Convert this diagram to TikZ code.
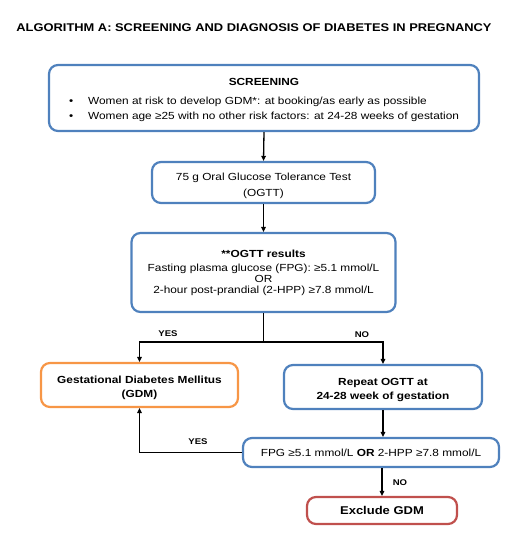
\documentclass[tikz,border=0pt]{standalone}
\usepackage{fontspec}
\setmainfont{Liberation Sans}[FakeStretch=1.15]
\usetikzlibrary{arrows.meta}
\definecolor{boxblue}{RGB}{79,129,189}
\definecolor{boxorange}{RGB}{247,150,70}
\definecolor{boxred}{RGB}{192,80,77}
\newcommand{\topstrut}{\rule{0pt}{13.5pt}}
\tikzset{
  flowbox/.style={draw, rectangle, rounded corners=9pt, line width=2.2pt,
    fill=white, align=center, inner sep=2pt,
    font=\fontsize{10.3}{11}\selectfont},
  bluebox/.style={flowbox, draw=boxblue},
  orangebox/.style={flowbox, draw=boxorange},
  redbox/.style={flowbox, draw=boxred},
  flowarrow/.style={-{Triangle[length=5pt,width=4.5pt]}, line width=1.3pt},
  flowlabel/.style={font=\fontsize{8.3}{10}\selectfont\bfseries}
}
\begin{document}
\begin{tikzpicture}[x=1pt,y=-1pt]
      \useasboundingbox (0,0) rectangle (517,539);
      \node[font=\fontsize{11.2}{13}\selectfont\bfseries] (title) at (254,27.5)
        {ALGORITHM A: SCREENING AND DIAGNOSIS OF DIABETES IN PREGNANCY};
      \node[bluebox, minimum width=430pt, minimum height=66pt,
        font=\fontsize{10.3}{15}\selectfont] (screen) at (264,98)
        {\topstrut\textbf{SCREENING}\\[7pt]
         \begin{tabular}{@{}l@{\hspace{15pt}}l@{}}
           \textbullet & Women at risk to develop GDM*: at booking/as early as possible\\
           \textbullet & Women age ≥25 with no other risk factors: at 24-28 weeks of gestation
         \end{tabular}};
      \node[bluebox, minimum width=223pt, minimum height=41pt,
        font=\fontsize{10.3}{16}\selectfont] (ogtt) at (263.5,182.5)
        {\topstrut 75 g Oral Glucose Tolerance Test\\(OGTT)};
      \node[bluebox, minimum width=264pt, minimum height=79pt] (results) at (263.5,272.5)
        {\textbf{**OGTT results}\\[3pt]
         Fasting plasma glucose (FPG): ≥5.1 mmol/L\\
         OR\\
         2-hour post-prandial (2-HPP) ≥7.8 mmol/L};
      \node[orangebox, minimum width=197pt, minimum height=44pt,
        font=\fontsize{10.3}{14}\selectfont\bfseries] (gdm) at (139.5,385)
        {\topstrut Gestational Diabetes Mellitus\\(GDM)};
      \node[bluebox, minimum width=198pt, minimum height=44pt,
        font=\fontsize{10.3}{14}\selectfont\bfseries] (repeat) at (383,387)
        {\topstrut Repeat OGTT at\\24-28 week of gestation};
      \node[bluebox, minimum width=256pt, minimum height=29pt] (fpg) at (371,452.5)
        {FPG ≥5.1 mmol/L \textbf{OR} 2-HPP ≥7.8 mmol/L};
      \node[redbox, minimum width=150pt, minimum height=27pt,
        font=\fontsize{11.3}{14}\selectfont\bfseries] (exclude) at (382,510.5)
        {Exclude GDM};
      \coordinate (split) at (263.5,342);
      \begin{scope}[flowarrow]
        \draw (screen.south) to (ogtt.north);
        \draw (ogtt.south) to (results.north);
        \draw[-] (results.south) to (split);
        \draw (split) -| (gdm.north);
        \draw (split) -| (repeat.north);
        \draw (repeat.south) to (fpg.north -| repeat.south);
        \draw (fpg.west) -| (gdm.south);
        \draw (fpg.south -| exclude.north) to (exclude.north);
      \end{scope}
      \node[flowlabel] (yes1) at (168,334) {YES};
      \node[flowlabel] (no1) at (362,335) {NO};
      \node[flowlabel] (yes2) at (198,442) {YES};
      \node[flowlabel] (no2) at (400,483) {NO};
    \end{tikzpicture}
\end{document}
